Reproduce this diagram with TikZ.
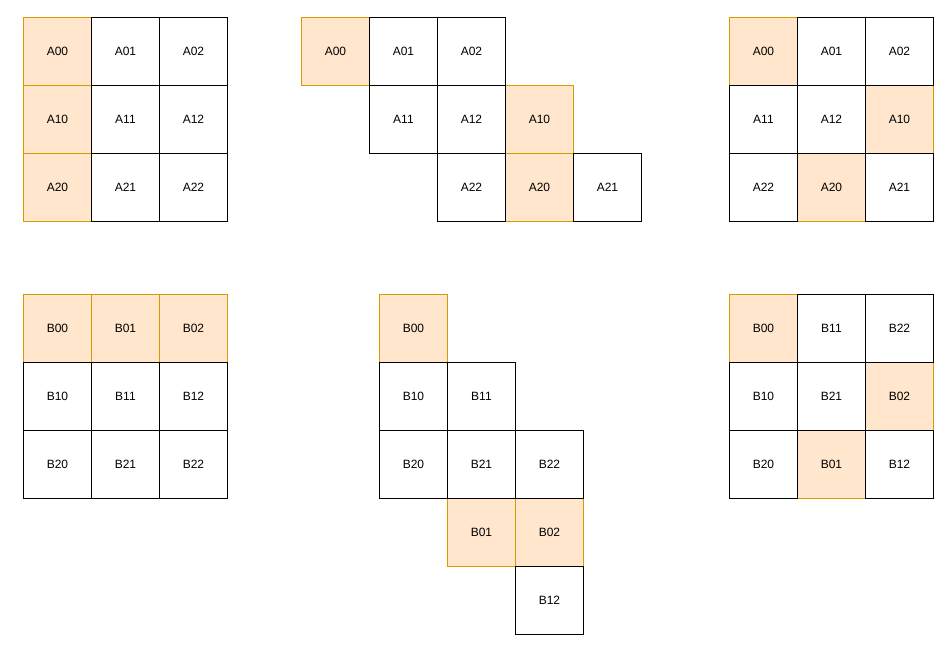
\documentclass[tikz,border=0pt]{standalone}
\usepackage{fontspec}
\setmainfont{Liberation Sans}
\definecolor{orfill}{HTML}{FFE6CC}
\definecolor{ordraw}{HTML}{D79B00}
\begin{document}
\begin{tikzpicture}[x=1pt,y=-1pt,
  cell/.style={draw=black,fill=white,line width=0.9pt,minimum size=68pt,inner sep=0pt,anchor=north west,font=\fontsize{12}{14}\selectfont},
  hcell/.style={cell,draw=ordraw,fill=orfill}]
\useasboundingbox (0,0) rectangle (949,646);
% Grid 1
\node[hcell] (g1a00) at (23,17) {A00};
\node[hcell] (g1a10) at (23,85) {A10};
\node[hcell] (g1a20) at (23,153) {A20};
\node[cell] (g1a01) at (91,17) {A01};
\node[cell] (g1a02) at (159,17) {A02};
\node[cell] (g1a11) at (91,85) {A11};
\node[cell] (g1a12) at (159,85) {A12};
\node[cell] (g1a21) at (91,153) {A21};
\node[cell] (g1a22) at (159,153) {A22};
% Grid 2
\node[hcell] (g2a00) at (301,17) {A00};
\node[hcell] (g2a10) at (505,85) {A10};
\node[hcell] (g2a20) at (505,153) {A20};
\node[cell] (g2a01) at (369,17) {A01};
\node[cell] (g2a02) at (437,17) {A02};
\node[cell] (g2a11) at (369,85) {A11};
\node[cell] (g2a12) at (437,85) {A12};
\node[cell] (g2a22) at (437,153) {A22};
\node[cell] (g2a21) at (573,153) {A21};
% Grid 3
\node[hcell] (g3a00) at (729,17) {A00};
\node[hcell] (g3a10) at (865,85) {A10};
\node[hcell] (g3a20) at (797,153) {A20};
\node[cell] (g3a01) at (797,17) {A01};
\node[cell] (g3a02) at (865,17) {A02};
\node[cell] (g3a11) at (729,85) {A11};
\node[cell] (g3a12) at (797,85) {A12};
\node[cell] (g3a22) at (729,153) {A22};
\node[cell] (g3a21) at (865,153) {A21};
% Grid 4
\node[hcell] (g4b00) at (23,294) {B00};
\node[hcell] (g4b01) at (91,294) {B01};
\node[hcell] (g4b02) at (159,294) {B02};
\node[cell] (g4b10) at (23,362) {B10};
\node[cell] (g4b11) at (91,362) {B11};
\node[cell] (g4b12) at (159,362) {B12};
\node[cell] (g4b20) at (23,430) {B20};
\node[cell] (g4b21) at (91,430) {B21};
\node[cell] (g4b22) at (159,430) {B22};
% Grid 5
\node[hcell] (g5b00) at (379,294) {B00};
\node[hcell] (g5b01) at (447,498) {B01};
\node[hcell] (g5b02) at (515,498) {B02};
\node[cell] (g5b10) at (379,362) {B10};
\node[cell] (g5b11) at (447,362) {B11};
\node[cell] (g5b20) at (379,430) {B20};
\node[cell] (g5b21) at (447,430) {B21};
\node[cell] (g5b22) at (515,430) {B22};
\node[cell] (g5b12) at (515,566) {B12};
% Grid 6
\node[hcell] (g6b00) at (729,294) {B00};
\node[hcell] (g6b02) at (865,362) {B02};
\node[hcell] (g6b01) at (797,430) {B01};
\node[cell] (g6b11) at (797,294) {B11};
\node[cell] (g6b22) at (865,294) {B22};
\node[cell] (g6b10) at (729,362) {B10};
\node[cell] (g6b21) at (797,362) {B21};
\node[cell] (g6b20) at (729,430) {B20};
\node[cell] (g6b12) at (865,430) {B12};
\end{tikzpicture}
\end{document}
